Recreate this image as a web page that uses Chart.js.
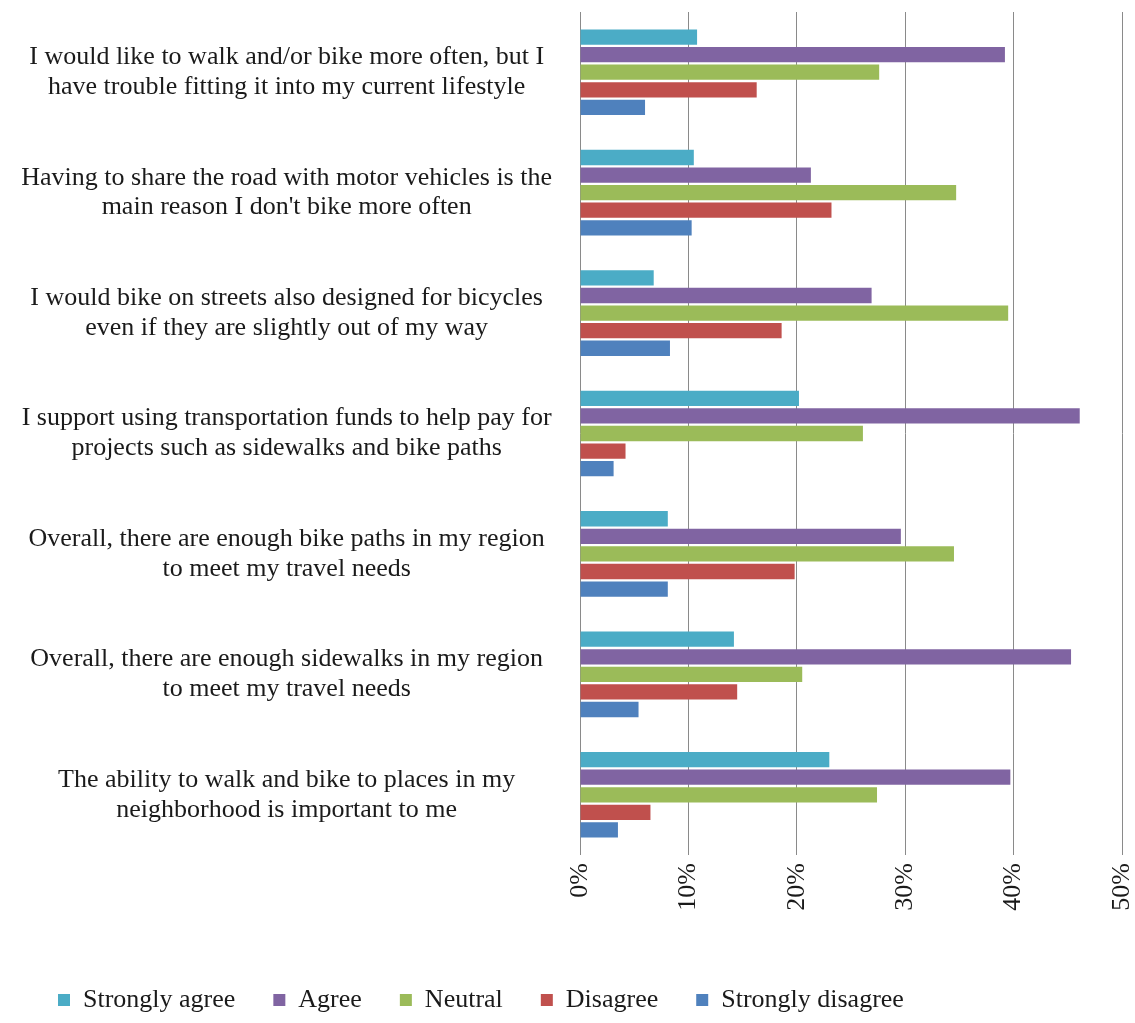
<!DOCTYPE html>
<html>
<head>
<meta charset="utf-8">
<title>Walking and biking attitudes</title>
<script src="https://cdn.jsdelivr.net/npm/chart.js@4.4.1/dist/chart.umd.min.js"></script>
<style>
  html, body { margin: 0; padding: 0; background: #fff; }
  #wrap { width: 1135px; height: 1023px; position: relative; }
</style>
</head>
<body>
<div id="wrap"><canvas id="surveyChart"></canvas></div>
<script>

// statements, top to bottom
var statements = [
  ["I would like to walk and/or bike more often, but I", "have trouble fitting it into my current lifestyle"],
  ["Having to share the road with motor vehicles is the", "main reason I don't bike more often"],
  ["I would bike on streets also designed for bicycles", "even if they are slightly out of my way"],
  ["I support using transportation funds to help pay for", "projects such as sidewalks and bike paths"],
  ["Overall, there are enough bike paths in my region", "to meet my travel needs"],
  ["Overall, there are enough sidewalks in my region", "to meet my travel needs"],
  ["The ability to walk and bike to places in my", "neighborhood is important to me"]
];

// percent of respondents
var stronglyAgree    = [10.8, 10.5,  6.8, 20.2,  8.1, 14.2, 23.0];
var agree            = [39.2, 21.3, 26.9, 46.1, 29.6, 45.3, 39.7];
var neutral          = [27.6, 34.7, 39.5, 26.1, 34.5, 20.5, 27.4];
var disagree         = [16.3, 23.2, 18.6,  4.2, 19.8, 14.5,  6.5];
var stronglyDisagree = [ 6.0, 10.3,  8.3,  3.1,  8.1,  5.4,  3.5];

var xTicks = [0, 10, 20, 30, 40, 50];

var serif = "'Liberation Serif', 'Times New Roman', serif";

function drawChart(){

  var ctx = document.getElementById('surveyChart').getContext('2d');

  function series(label, values, colour){
    return {
      label: label,
      data: values,
      backgroundColor: colour,
      borderWidth: 0,
      categoryPercentage: 0.73,
      barPercentage: 0.87
    };
  }

  var chart = new Chart(ctx, {
    type: 'bar',
    data: {
      labels: statements,
      datasets: [
        series('Strongly agree', stronglyAgree, '#4bacc6'),
        series('Agree', agree, '#8064a2'),
        series('Neutral', neutral, '#9bbb59'),
        series('Disagree', disagree, '#c0504d'),
        series('Strongly disagree', stronglyDisagree, '#4f81bd')
      ]
    },
    options: {
      indexAxis: 'y',
      responsive: true,
      maintainAspectRatio: false,
      animation: false,
      layout: { padding: { left: 20, right: 13, top: 12, bottom: 0 } },
      scales: {
        x: {
          min: 0,
          max: 50,
          afterBuildTicks: function(axis){
            axis.ticks = xTicks.map(function(v){ return { value: v }; });
          },
          afterFit: function(axis){
            axis.height = 94;
            axis.paddingLeft = 0;
            axis.paddingRight = 0;
          },
          grid: { color: '#8a8a8a', lineWidth: 1, drawTicks: false },
          border: { display: false },
          ticks: {
            minRotation: 90,
            maxRotation: 90,
            padding: 8,
            color: '#1a1a1a',
            font: { family: serif, size: 26 },
            callback: function(v){ return v + '%'; }
          }
        },
        y: {
          afterFit: function(axis){
            axis.width = 560;
            axis.paddingTop = 0;
            axis.paddingBottom = 0;
          },
          grid: { display: false },
          border: { display: false },
          ticks: {
            crossAlign: 'center',
            padding: 20,
            color: '#1a1a1a',
            font: { family: serif, size: 26, lineHeight: 1.15 }
          }
        }
      },
      plugins: {
        legend: {
          position: 'bottom',
          align: 'start',
          labels: {
            boxWidth: 12,
            boxHeight: 12,
            padding: 38,
            color: '#1a1a1a',
            font: { family: serif, size: 26 }
          }
        },
        tooltip: { enabled: false }
      }
    }
  });
}

function init(){

  drawChart();
}

init();
</script>
</body>
</html>
